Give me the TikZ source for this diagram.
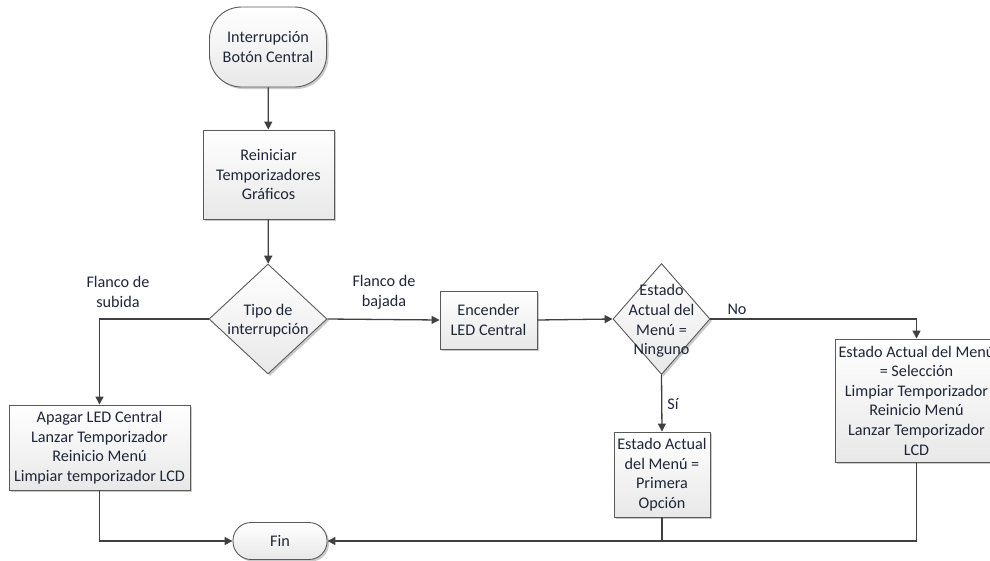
\documentclass[tikz,border=0pt]{standalone}
\usepackage{fontspec}
\setmainfont{Carlito}
\usetikzlibrary{shapes.geometric,arrows.meta,shadows}
\definecolor{ink}{RGB}{30,38,56}
\definecolor{wire}{RGB}{64,64,64}
\definecolor{edge}{RGB}{90,90,90}
\begin{document}
\begin{tikzpicture}[x=1pt,y=-1pt,
  every node/.style={font=\fontsize{16.2}{19.6}\selectfont, text=ink},
  shapebase/.style={draw=edge, line width=0.9pt, top color=white, bottom color=gray!18,
    drop shadow={shadow xshift=2pt,shadow yshift=-2pt,fill=black!35,opacity=0.6},
    align=center, inner sep=0pt},
  process/.style={shapebase, rectangle},
  terminal/.style={shapebase, rectangle, rounded corners=#1},
  decision/.style={shapebase, diamond},
  flow/.style={draw=wire, line width=1.3pt, -{Triangle[length=8pt,width=8pt]}},
  link/.style={draw=wire, line width=1.3pt},
  caption/.style={align=center, inner sep=0pt}
]
\useasboundingbox (0,0) rectangle (990,560);
\clip (0,0) rectangle (990,560);

% shapes
\node[terminal=32pt, minimum width=117pt, minimum height=80pt] (start) at (268,47) {Interrupción\\Botón Central};
\node[process, minimum width=131pt, minimum height=89pt] (reset) at (268.5,174.5) {Reiniciar\\Temporizadores\\Gráficos};
\node[decision, minimum width=118pt, minimum height=110pt] (kind) at (268,319) {};
\node[caption] (kindtxt) at (268,320.5) {Tipo de\\interrupción};
\node[process, minimum width=181pt, minimum height=85pt] (off) at (99.5,447.5) {Apagar LED Central\\Lanzar Temporizador\\Reinicio Menú\\Limpiar temporizador LCD};
\node[process, minimum width=97pt, minimum height=58pt] (on) at (488.5,320) {Encender\\LED Central};
\node[decision, minimum width=97pt, minimum height=111pt] (menu) at (661.5,319) {};
\node[caption] (menutxt) at (661.5,321) {Estado\\Actual del\\Menú =\\Ninguno};
\node[process, minimum width=96pt, minimum height=85pt] (first) at (662,474.5) {Estado Actual\\del Menú =\\Primera\\Opción};
\node[process, minimum width=163pt, minimum height=123pt] (sel) at (916.5,400.5) {Estado Actual del Menú\\= Selección\\Limpiar Temporizador\\Reinicio Menú\\Lanzar Temporizador\\LCD};
\node[terminal=18pt, minimum width=94pt, minimum height=37pt] (fin) at (280,541) {Fin};

% branch labels
\node[caption] (rise) at (118,292) {Flanco de\\subida};
\node[caption] (fall) at (384,292) {Flanco de\\bajada};
\node[caption] (no) at (737,309) {No};
\node[caption] (yes) at (673,404) {Sí};

% connectors
\draw[flow] (start) -- (reset);
\draw[flow] (reset) -- (kind);
\draw[flow] (kind.west) -| (off.north);
\draw[flow] (kind.east) -- (on.west);
\draw[flow] (on.east) -- (menu.west);
\draw[flow] (menu.east) -| (sel.north);
\draw[flow] (menu.south) -- (first.north);
\coordinate (join) at (first.south |- fin.east);
\draw[link] (sel.south) |- (join);
\draw[flow] (first.south) -- (join) -- (fin.east);
\draw[flow] (off.south) |- (fin.west);
\end{tikzpicture}
\end{document}
